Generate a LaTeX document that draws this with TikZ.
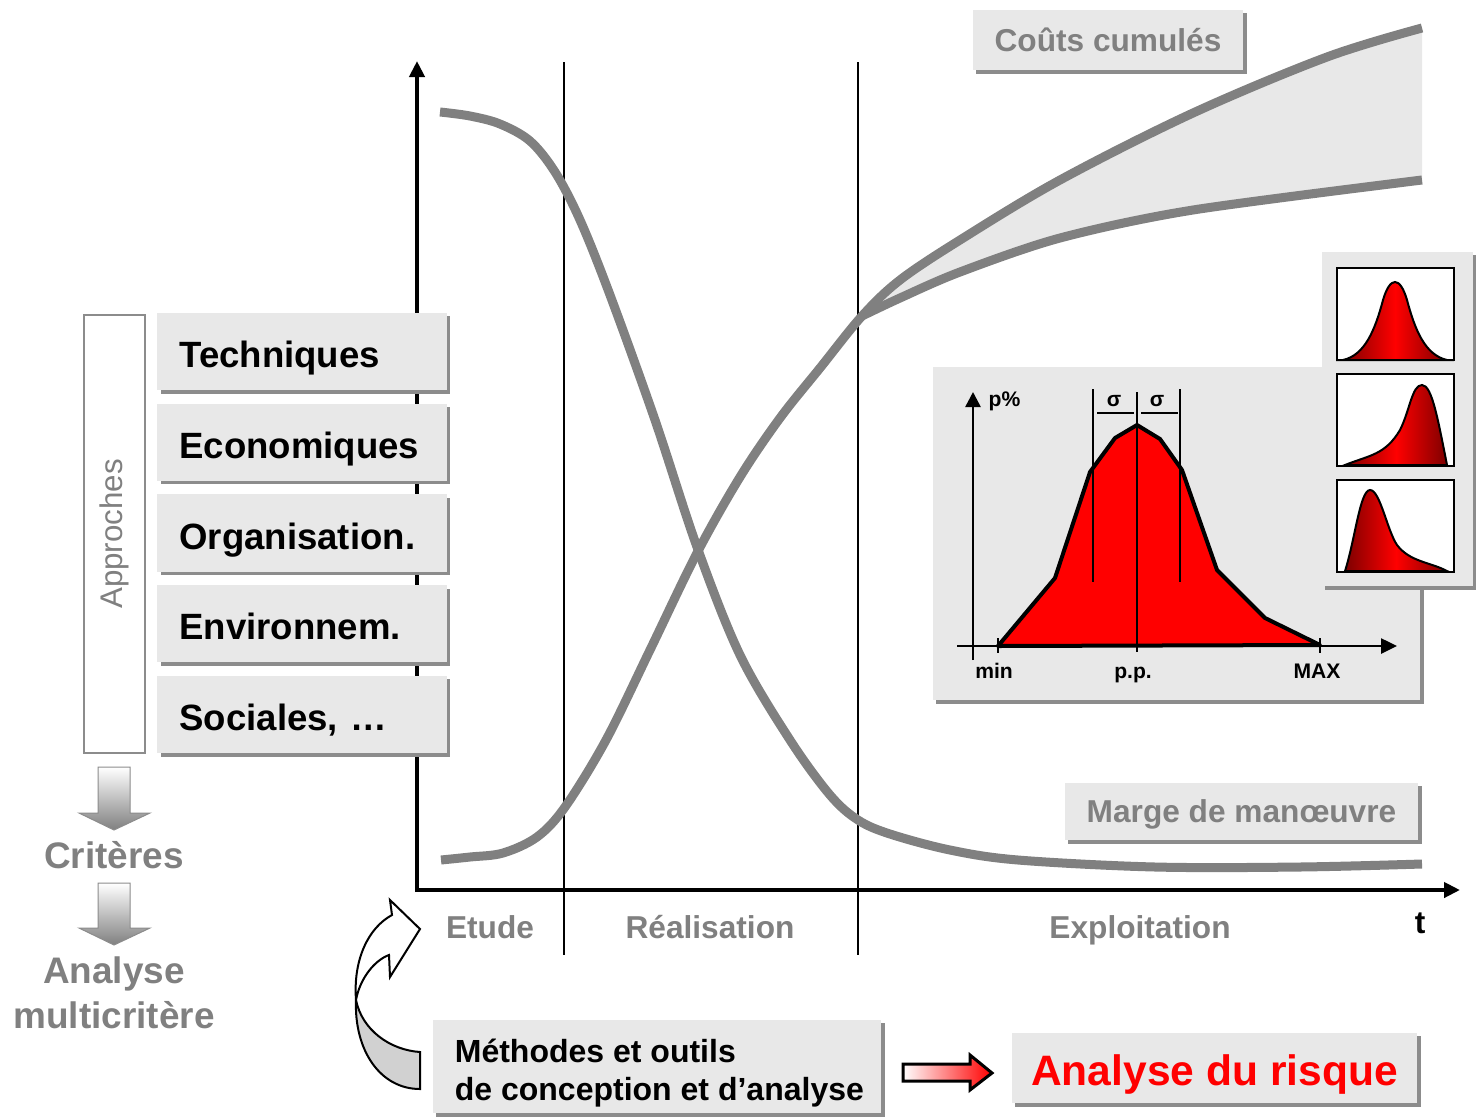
\documentclass[tikz,border=0pt]{standalone}
\usepackage{fontspec}
\setmainfont{Liberation Sans}
\usepackage{tikz}
\usetikzlibrary{arrows.meta,shadows}
\definecolor{curvegray}{RGB}{128,128,128}
\definecolor{boxgray}{RGB}{232,232,232}
\definecolor{shadowgray}{RGB}{140,140,140}
\definecolor{darkred}{RGB}{125,0,0}
\tikzset{
every picture/.style={x=0.01cm, y=-0.01cm},
graybox/.style={fill=boxgray, draw=none, inner sep=0pt,
  general shadow={fill=shadowgray, shadow xshift=0.035cm, shadow yshift=-0.035cm}},
approach/.style={graybox, minimum height=0.77cm, text width=2.45cm, text height=9.1pt, text depth=0pt,
  inner xsep=0.22cm, align=left, font=\fontsize{10.4}{12.5}\selectfont\bfseries},
graylabel/.style={text=curvegray, font=\fontsize{9}{10.8}\selectfont\bfseries},
steplabel/.style={text=curvegray, font=\fontsize{10.5}{12.8}\selectfont\bfseries, align=center},
small/.style={font=\fontsize{6}{7}\selectfont\bfseries, inner sep=0pt},
curve/.style={draw=curvegray, line width=0.09cm},
axis/.style={line width=0.04cm, -{Triangle[length=0.16cm, width=0.15cm]}},
frame/.style={fill=white, draw=black, line width=0.015cm, minimum width=1.17cm, minimum height=0.92cm, inner sep=0pt},
bell/.style={left color=darkred, right color=darkred, middle color=red, draw=black, line width=0.02cm}
}

\begin{document}
\begin{tikzpicture}
\useasboundingbox (0,0) rectangle (1476,1118);

% band between the two cost curves
\fill[boxgray] plot[smooth, tension=0.5] coordinates {(862,316) (900,280) (960,240) (1060,180) (1193,113) (1327,57) (1422,28)}
  -- plot[smooth, tension=0.5] coordinates {(1422,180) (1193,210) (1060,238) (960,272) (900,298) (862,316)} -- cycle;

% axes and phases
\draw[axis] (417,892) -- (417,61);
\draw[axis] (415,890) -- (1460,890);
\draw[line width=0.02cm] (564,62) -- (564,955);
\draw[line width=0.02cm] (858,62) -- (858,955);

% curves
\draw[curve] plot[smooth, tension=0.55] coordinates {(440,112) (470,116) (500,124) (530,141) (555,172) (580,220) (610,295) (655,420) (697,547) (740,655) (790,740) (830,795) (858,820) (890,834) (950,850) (1018,860) (1155,867) (1300,867) (1422,864)};
\draw[curve] plot[smooth, tension=0.55] coordinates {(441,860) (470,857) (503,853) (537,837) (565,807) (606,740) (650,650) (697,553) (740,477) (780,418) (820,368) (862,316) (900,280) (960,240) (1060,180) (1193,113) (1327,57) (1422,28)};
\draw[curve] plot[smooth, tension=0.5] coordinates {(862,316) (900,298) (960,272) (1060,238) (1193,210) (1422,180)};

\node[graybox, graylabel, minimum width=2.70cm, minimum height=0.60cm, text height=6.5pt, text depth=0pt] (couts) at (1108,40) {Coûts cumulés};
\node[graybox, graylabel, minimum width=3.53cm, minimum height=0.57cm, text height=6.5pt, text depth=0pt] (marge) at (1241.5,811.5) {Marge de manœuvre};

\node[graylabel, anchor=base] (etude) at (490,938) {Etude};
\node[graylabel, anchor=base] (real) at (710,938) {Réalisation};
\node[graylabel, anchor=base] (expl) at (1140,938) {Exploitation};
\node[font=\fontsize{9}{10.8}\selectfont\bfseries, anchor=base] (temps) at (1420,933) {t};

% approaches
\node[draw=shadowgray, line width=0.015cm, fill=white, rotate=90, minimum width=4.38cm, minimum height=0.61cm,
  text=curvegray, font=\fontsize{8.9}{10}\selectfont] (appr) at (114.5,534) {Approches};
\foreach \name/\txt [count=\i from 0] in {tech/Techniques, eco/Economiques, orga/Organisation., envi/Environnem., soci/{Sociales, …}}
  \node[approach] (\name) at (302,351.5+90.75*\i) {\txt};

\shadedraw[top color=white, bottom color=curvegray, draw=shadowgray, line width=0.01cm]
  (98,767) -- (130,767) -- (130,813) -- (150,813) -- (114,830) -- (79,813) -- (98,813) -- cycle;
\node[steplabel] (crit) at (114,855) {Critères};
\shadedraw[top color=white, bottom color=curvegray, draw=shadowgray, line width=0.01cm]
  (98,883) -- (130,883) -- (130,928) -- (150,928) -- (114,945) -- (79,928) -- (98,928) -- cycle;
\node[steplabel] (multi) at (114,993) {Analyse\\multicritère};

% methods and risk
\node[graybox, minimum width=4.48cm, minimum height=0.93cm] (meth) at (657,1066.5) {};
\node[anchor=west, align=left, inner sep=0pt, font=\fontsize{9.1}{10.8}\selectfont\bfseries] (methtxt)
  at ([xshift=0.22cm, yshift=-0.07cm]meth.west) {Méthodes et outils\\de conception et d’analyse};
\node[graybox, minimum width=4.05cm, minimum height=0.70cm, text height=10pt, text depth=0pt, text=red,
  font=\fontsize{12.1}{14}\selectfont\bfseries] (risk) at (1214.5,1068) {Analyse du risque};
\shadedraw[left color=white, right color=red, draw=black, line width=0.03cm]
  (903,1064) -- (970,1064) -- (970,1055) -- (992,1073) -- (970,1090) -- (970,1081) -- (903,1081) -- cycle;

% curved arrow
\filldraw[fill=black!18, draw=black, line width=0.02cm]
  (356,1000) .. controls (354,1050) and (380,1089) .. (420,1089) -- (420,1052)
  .. controls (390,1050) and (362,1030) .. (356,1000) -- cycle;
\filldraw[fill=white, draw=black, line width=0.02cm]
  (356,1000) .. controls (353,960) and (368,928) .. (392,915) -- (390,900) -- (420,929) -- (390,977)
  -- (389,955) .. controls (375,960) and (360,978) .. (356,1000) -- cycle;

% distribution
\node[graybox, minimum width=4.87cm, minimum height=3.33cm] (distrib) at (1176.5,533.5) {};
\filldraw[fill=red, draw=black, line width=0.04cm, line join=round]
  (998,646) -- (1055,578) -- (1090,472) -- (1115,438) -- (1137,425) -- (1160,439) -- (1182,470)
  -- (1217,570) -- (1265,618) -- (1320,645) -- cycle;
\draw[line width=0.025cm, -{Triangle[length=0.15cm, width=0.15cm]}] (973,660) -- (973,392);
\draw[line width=0.025cm, -{Triangle[length=0.16cm, width=0.15cm]}] (957,646) -- (1397,646);
\draw[line width=0.02cm] (1093,389) -- (1093,582) (1137,392) -- (1137,652) (1180,389) -- (1180,582);
\draw[line width=0.02cm] (1097,413) -- (1134,413) (1141,413) -- (1178,413);
\draw[line width=0.02cm] (998,638) -- (998,653) (1320,638) -- (1320,653);
\node[small, anchor=west] (pct) at (988,401) {p\%};
\node[small] (sigl) at (1114,401) {σ};
\node[small] (sigr) at (1157,401) {σ};
\node[small, anchor=base] (minl) at (994,678) {min};
\node[small, anchor=base] (ppl) at (1133,678) {p.p.};
\node[small, anchor=base] (maxl) at (1317,678) {MAX};

% shapes of the distribution
\node[graybox, minimum width=1.51cm, minimum height=3.34cm] (shapes) at (1397.5,419) {};
\node[frame] (frameA) at (1395.5,314) {};
\node[frame] (frameB) at (1395.5,420) {};
\node[frame] (frameC) at (1395.5,526) {};
\shadedraw[bell] (1343,360) .. controls (1365,355) and (1375,330) .. (1383,300)
  .. controls (1390,276) and (1400,276) .. (1407,300) .. controls (1415,330) and (1425,355) .. (1447,360) -- cycle;
\shadedraw[bell] (1345,465) .. controls (1370,455) and (1385,455) .. (1400,430)
  .. controls (1410,410) and (1412,385) .. (1422,385) .. controls (1432,385) and (1438,420) .. (1447,465) -- cycle;
\shadedraw[bell] (1345,571) .. controls (1355,540) and (1360,490) .. (1370,490)
  .. controls (1380,490) and (1387,530) .. (1397,545) .. controls (1410,562) and (1430,562) .. (1447,571) -- cycle;
\end{tikzpicture}
\end{document}
